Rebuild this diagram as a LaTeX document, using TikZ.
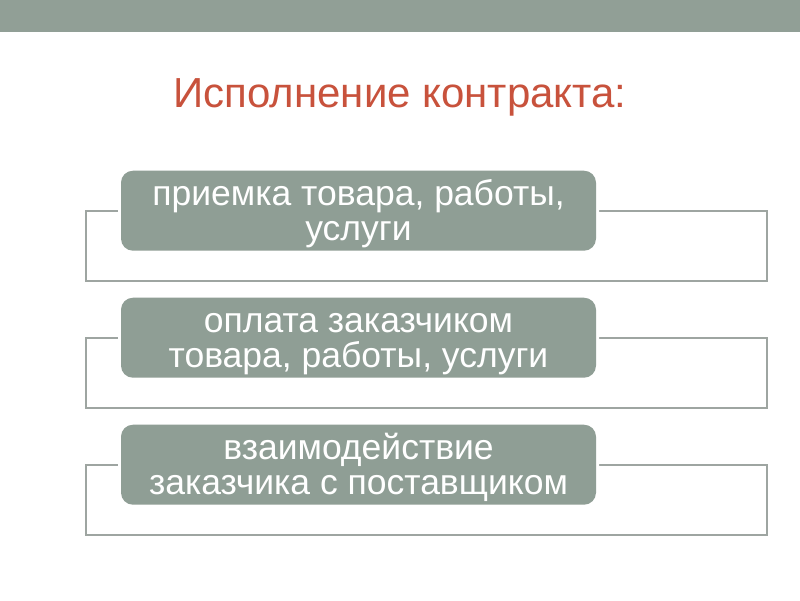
\documentclass[tikz,border=0pt]{standalone}
\usepackage{fontspec}
\setmainfont{Liberation Sans}
\definecolor{bargray}{RGB}{145,159,150}
\definecolor{boxgray}{RGB}{143,158,149}
\definecolor{linegray}{RGB}{158,165,161}
\definecolor{titlered}{RGB}{200,82,60}
\tikzset{
  outerbox/.style={draw=linegray, line width=2pt, fill=white},
  halo/.style={draw=white, line width=6pt, rounded corners=12pt},
  itembox/.style={fill=boxgray, rounded corners=12pt},
  itemtext/.style={text=white, align=center, anchor=base, inner sep=0pt, font=\fontsize{35.5}{35}\selectfont},
  titletext/.style={text=titlered, anchor=base, font=\fontsize{42}{48}\selectfont}
}
\begin{document}
\begin{tikzpicture}[x=1pt,y=-1pt]
\useasboundingbox (0,0) rectangle (800,600);
\fill[white] (0,0) rectangle (800,600);
\fill[bargray] (0,0) rectangle (800,31.5);
\node[titletext] (title) at (400,107.7) {Исполнение контракта:};
\foreach \i/\t in {0/{приемка товара, работы,\\услуги},
                   1/{оплата заказчиком\\товара, работы, услуги},
                   2/{взаимодействие\\заказчика с поставщиком}}{
  \pgfmathsetmacro{\dy}{127*\i}
  \draw[outerbox] (86,210.7+\dy) rectangle (767,280.7+\dy);
  \draw[halo] (121,170.7+\dy) rectangle (596,250.7+\dy);
  \fill[itembox] (121,170.7+\dy) rectangle (596,250.7+\dy);
  \node[itemtext] (item\i) at (358.5,240+\dy) {\t};
}
\end{tikzpicture}
\end{document}
